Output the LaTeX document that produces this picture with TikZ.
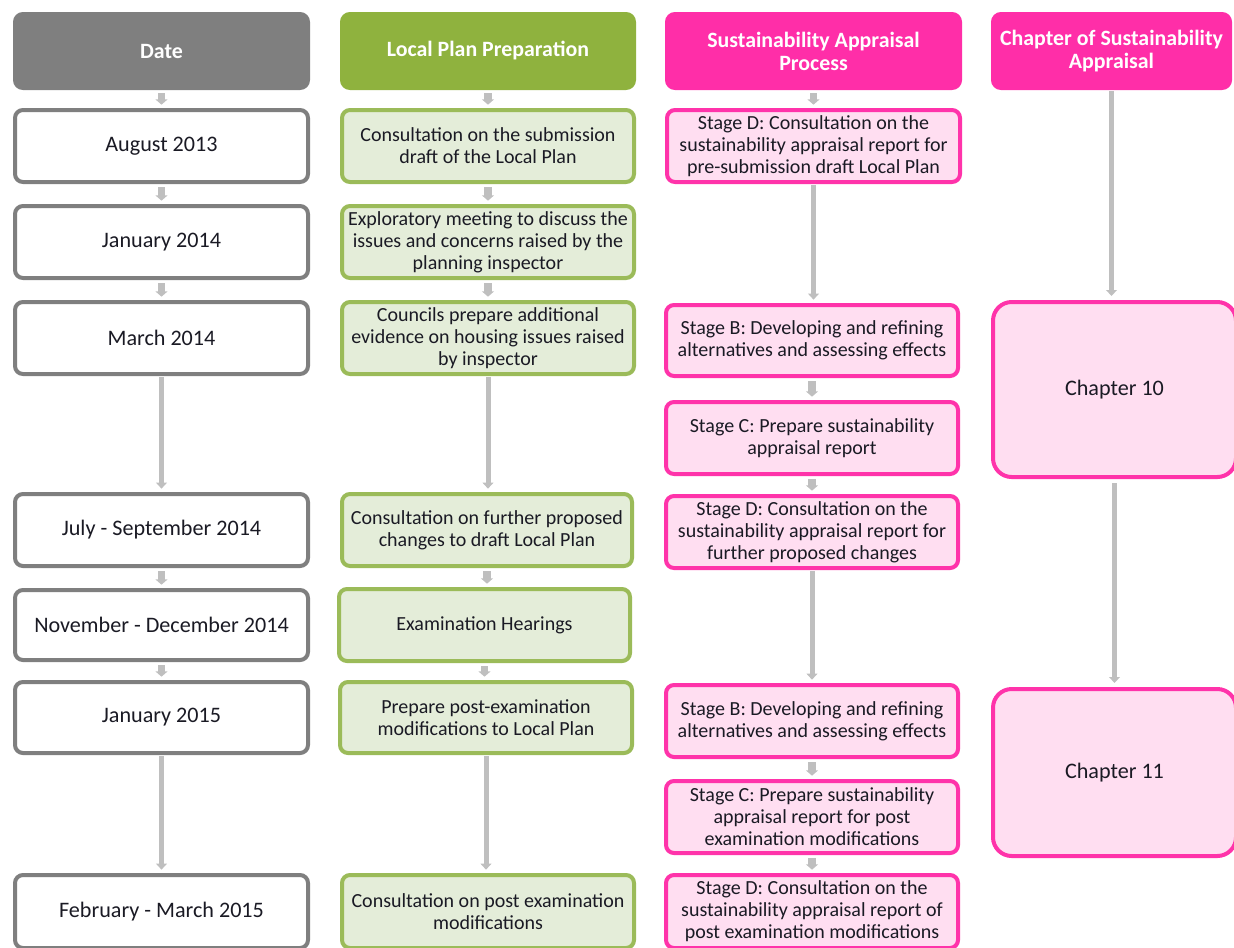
\documentclass[tikz,border=0pt]{standalone}
\usepackage{fontspec}
\setmainfont{Carlito}
\usetikzlibrary{arrows.meta}
\definecolor{hgray}{HTML}{7F7F7F}
\definecolor{hgreen}{HTML}{8FB23E}
\definecolor{hpink}{HTML}{FF2EA8}
\definecolor{bgray}{HTML}{7F7F7F}
\definecolor{bgreen}{HTML}{9BBB59}
\definecolor{fgreen}{HTML}{E4EDD9}
\definecolor{bpink}{HTML}{FF33AA}
\definecolor{fpink}{HTML}{FFDEF1}
\definecolor{arrgray}{HTML}{BFBFBF}
\definecolor{txt}{HTML}{1A1A24}
\newcommand\bx[7]{\node[#1, minimum width={(#4-#3-4)*0.75pt}, minimum height={(#6-#5-4)*0.75pt}] (#2) at ({(#3+#4)/2},{(#5+#6)/2}) {#7};}
\begin{document}
\begin{tikzpicture}[x=0.75pt,y=-0.75pt,
  base/.style={rectangle, rounded corners=6pt, inner sep=0pt, align=center, text=txt,
    font=\fontsize{15}{16.5}\selectfont},
  bigtext/.style={font=\fontsize{16.6}{18}\selectfont},
  headbox/.style={base, fill=#1, draw=#1, line width=3pt, text=white,
    font=\fontsize{16.4}{17.3}\selectfont\bfseries},
  datebox/.style={base, bigtext, draw=bgray, fill=white, line width=3pt},
  lpbox/.style={base, draw=bgreen, fill=fgreen, line width=3pt},
  sabox/.style={base, draw=bpink, fill=fpink, line width=3pt},
  chbox/.style={sabox, bigtext, rounded corners=14pt},
  longarr/.style={draw=arrgray, line width=3.75pt, -{Triangle[width=8pt,length=4.5pt]}},
  shortarr/.style={draw=arrgray, line width=5.5pt, -{Triangle[width=9pt,length=4pt]}}]
\clip (0,0) rectangle (1234,947);
\useasboundingbox (0,0) rectangle (1234,947);

% headers
\bx{headbox=hgray}{h1}{13}{310}{12}{90}{Date}
\bx{headbox=hgreen}{h2}{340}{636}{12}{90}{Local Plan Preparation}
\bx{headbox=hpink}{h3}{665}{962}{12}{90}{Sustainability Appraisal\\Process}
\bx{headbox=hpink}{h4}{991}{1232}{12}{90}{Chapter of Sustainability\\Appraisal}

% dates
\bx{datebox}{d1}{13}{310}{108}{184}{August 2013}
\bx{datebox}{d2}{13}{310}{204}{280}{January 2014}
\bx{datebox}{d3}{13}{310}{300}{376}{March 2014}
\bx{datebox}{d4}{13}{310}{492}{568}{July - September 2014}
\bx{datebox}{d5}{13}{310}{588}{662}{November - December 2014}
\bx{datebox}{d6}{13}{310}{680}{755}{January 2015}
\bx{datebox}{d7}{13}{310}{873}{950}{February - March 2015}

% local plan
\bx{lpbox}{l1}{340}{636}{108}{184}{Consultation on the  submission\\draft of the Local  Plan}
\bx{lpbox}{l2}{340}{636}{204}{280}{Exploratory meeting to discuss the\\issues and concerns raised by the\\planning inspector}
\bx{lpbox}{l3}{340}{636}{300}{376}{Councils prepare additional\\evidence on housing issues raised\\by inspector}
\bx{lpbox}{l4}{340}{634}{492}{568}{Consultation on further proposed\\changes to draft Local Plan}
\bx{lpbox}{l5}{337}{632}{587}{663}{Examination Hearings}
\bx{lpbox}{l6}{338}{634}{680}{755}{Prepare post-examination\\modifications  to Local Plan}
\bx{lpbox}{l7}{340}{636}{873}{950}{Consultation on post examination\\modifications}

% sustainability appraisal
\bx{sabox}{s1}{665}{962}{108}{184}{Stage D: Consultation on the\\sustainability appraisal report for\\pre-submission draft Local Plan}
\bx{sabox}{s2}{664}{960}{303}{378}{Stage B: Developing and refining\\alternatives and assessing effects}
\bx{sabox}{s3}{664}{960}{400}{476}{Stage C:  Prepare sustainability\\appraisal report}
\bx{sabox}{s4}{664}{960}{494}{570}{Stage D: Consultation on the\\sustainability appraisal report for\\further proposed changes}
\bx{sabox}{s5}{664}{960}{683}{759}{Stage B: Developing and refining\\alternatives and assessing effects}
\bx{sabox}{s6}{664}{960}{779}{855}{Stage C:  Prepare sustainability\\appraisal report for post\\examination modifications}
\bx{sabox}{s7}{664}{960}{873}{950}{Stage D: Consultation on the\\sustainability appraisal report of\\post examination modifications}

% chapters
\bx{chbox}{c1}{991}{1238}{300}{479}{Chapter 10}
\bx{chbox}{c2}{991}{1238}{687}{858}{Chapter 11}

% short arrows
\foreach \a/\b in {h1/d1,d1/d2,d2/d3,d4/d5,d5/d6,h2/l1,l1/l2,l2/l3,l4/l5,l5/l6,h3/s1,s2/s3,s3/s4,s5/s6,s6/s7}
  \draw[shortarr] ([yshift=-2.5pt]\a.south) -- ([yshift=2.5pt]\a.south |- \b.north);

% long arrows
\foreach \a/\b in {d3/d4,d6/d7,l3/l4,l6/l7,s1/s2,s4/s5}
  \draw[longarr] ([yshift=-1pt]\a.south) -- ([yshift=2.5pt]\a.south |- \b.north);
\draw[longarr] ([yshift=-1pt]h4.south) -- ([yshift=3pt]h4.south |- c1.north);
\draw[longarr] ([yshift=-3pt]c1.south) -- ([yshift=3pt]c1.south |- c2.north);
\end{tikzpicture}
\end{document}
